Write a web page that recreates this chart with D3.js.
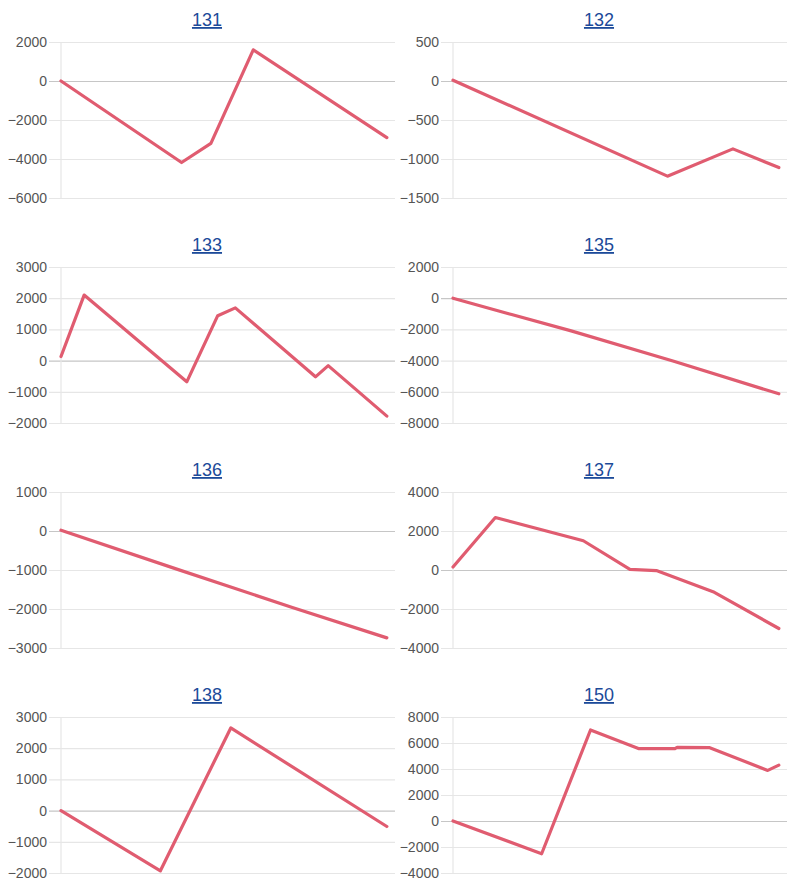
<!DOCTYPE html>
<html>
<head>
<meta charset="utf-8">
<script src="https://cdn.jsdelivr.net/npm/d3@7"></script>
<style>
  html, body { margin: 0; padding: 0; background: #fff; }
  svg { display: block; font-family: "Liberation Sans", Arial, Helvetica, sans-serif; }
  .title { font-size: 18px; fill: #1c4a99; text-decoration: underline; }
  .tick text { font-size: 14px; fill: #555555; }
</style>
</head>
<body>
<svg id="chart" width="800" height="884"></svg>
<script>
// ---- Data (x = trading-day index 0..100, y = cumulative value) ----
const titles = ["131", "132", "133", "135", "136", "137", "138", "150"];

const s131 = [[0, 0], [37, -4180], [46, -3200], [59, 1600], [100, -2900]];
const s132 = [[0, 10], [65.8, -1220], [85.9, -870], [100, -1110]];
const s133 = [[0, 130], [7.1, 2100], [38.6, -680], [48.1, 1440], [53.5, 1690], [78.1, -520], [82.0, -160], [100, -1780]];
const s135 = [[0, 0], [18, -1050], [36, -2080], [67.5, -4030], [100, -6130]];
const s136 = [[0, 20], [36, -990], [71, -1960], [100, -2740]];
const s137 = [[0, 150], [13.0, 2690], [40.0, 1500], [54.3, 30], [62.4, -30], [79.8, -1110], [100, -3000]];
const s138 = [[0, 0], [30.5, -1930], [52.1, 2650], [100, -510]];
const s150 = [[0, 0], [27.2, -2520], [42.2, 7000], [57.1, 5560], [68.1, 5560], [68.8, 5660], [78.8, 5640], [96.6, 3890], [100, 4300]];

const yDomains = [[-6000, 2000], [-1500, 500], [-2000, 3000], [-8000, 2000], [-3000, 1000], [-4000, 4000], [-2000, 3000], [-4000, 8000]];
const yTickSteps = [2000, 500, 1000, 2000, 1000, 2000, 1000, 2000];

const series = [s131, s132, s133, s135, s136, s137, s138, s150];

// ---- Layout ----
const colLeft = [61, 453];
const rowTop = [42, 267, 492, 717];
const plotW = 334, plotH = 156;
const xMax = 102.5;

const svg = d3.select("#chart");

series.forEach((data, i) => {
  const col = i % 2, row = Math.floor(i / 2);
  const left = colLeft[col], top = rowTop[row];
  const g = svg.append("g").attr("transform", `translate(${left},${top})`);

  const x = d3.scaleLinear().domain([0, xMax]).range([0, plotW]);
  const y = d3.scaleLinear().domain(yDomains[i]).range([plotH, 0]);
  const ticks = d3.range(yDomains[i][0], yDomains[i][1] + 1e-9, yTickSteps[i]);

  // gridlines + labels via axis
  const axis = d3.axisLeft(y).tickValues(ticks).tickSize(-(plotW + 12)).tickPadding(2).tickFormat(d3.format("d"));
  const ag = g.append("g").attr("transform", "translate(-12,0)").call(axis);
  ag.select(".domain").remove();
  ag.selectAll(".tick line")
    .attr("stroke", d => d === 0 ? "#c6c6c6" : "#e6e6e6")
    .attr("stroke-width", 1.2);
  ag.selectAll(".tick text").attr("font-family", null).attr("font-size", null);

  // vertical axis line
  g.append("line")
    .attr("x1", 0).attr("x2", 0)
    .attr("y1", 0).attr("y2", plotH)
    .attr("stroke", "#e6e6e6").attr("stroke-width", 1.2);

  // series line
  const line = d3.line().x(d => x(d[0])).y(d => y(d[1]));
  g.append("path")
    .datum(data)
    .attr("d", line)
    .attr("fill", "none")
    .attr("stroke", "#e05c70")
    .attr("stroke-width", 3.2)
    .attr("stroke-linejoin", "round")
    .attr("stroke-linecap", "round");

  // title
  svg.append("text")
    .attr("class", "title")
    .attr("x", left + 146)
    .attr("y", top - 16)
    .attr("text-anchor", "middle")
    .text(titles[i]);
});
</script>
</body>
</html>
